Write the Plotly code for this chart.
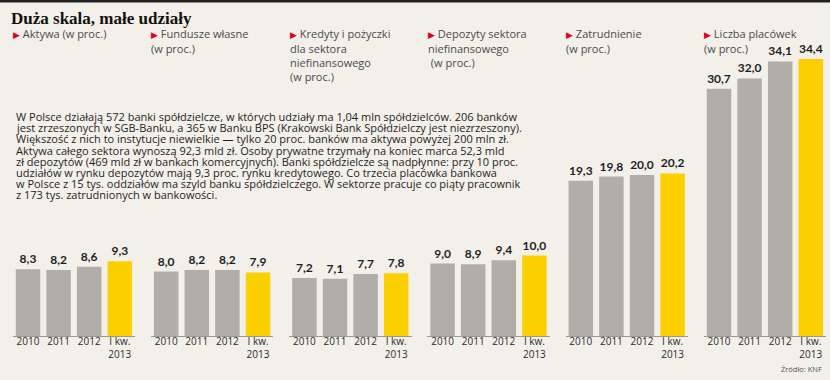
import plotly.graph_objects as go

categories = ["2010", "2011", "2012", "I kw.<br>2013"]
panel_titles = [
    ["Aktywa (w proc.)"],
    ["Fundusze własne", "(w proc.)"],
    ["Kredyty i pożyczki", "dla sektora", "niefinansowego", "(w proc.)"],
    ["Depozyty sektora", "niefinansowego", " (w proc.)"],
    ["Zatrudnienie", "(w proc.)"],
    ["Liczba placówek", "(w proc.)"],
]
aktywa = [8.3, 8.2, 8.6, 9.3]
fundusze = [8.0, 8.2, 8.2, 7.9]
kredyty = [7.2, 7.1, 7.7, 7.8]
depozyty = [9.0, 8.9, 9.4, 10.0]
zatrudnienie = [19.3, 19.8, 20.0, 20.2]
placowki = [30.7, 32.0, 34.1, 34.4]
series = [aktywa, fundusze, kredyty, depozyty, zatrudnienie, placowki]

title = "Duża skala, małe udziały"
paragraph = [
    "W Polsce działają 572 banki spółdzielcze, w których udziały ma 1,04 mln spółdzielców. 206 banków",
    "jest zrzeszonych w SGB-Banku, a 365 w Banku BPS (Krakowski Bank Spółdzielczy jest niezrzeszony).",
    "Większość z nich to instytucje niewielkie — tylko 20 proc. banków ma aktywa powyżej 200 mln zł.",
    "Aktywa całego sektora wynoszą 92,3 mld zł. Osoby prywatne trzymały na koniec marca 52,3 mld",
    "zł depozytów (469 mld zł w bankach komercyjnych). Banki spółdzielcze są nadpłynne: przy 10 proc.",
    "udziałów w rynku depozytów mają 9,3 proc. rynku kredytowego. Co trzecia placówka bankowa",
    "w Polsce z 15 tys. oddziałów ma szyld banku spółdzielczego. W sektorze pracuje co piąty pracownik",
    "z 173 tys. zatrudnionych w bankowości.",
]
source = "Źródło: KNF"

W, H = 830, 380
GRAY = "#b1aea7"
YELLOW = "#fcd000"
BG = "#f3f0ea"
SANS = "Open Sans"

def px(x):
    return x / W

def py(y):
    return (H - y) / H

fig = go.Figure()
layout = {}
annotations = []
starts = [15.7 + 138.2 * i for i in range(6)]
for i, vals in enumerate(series):
    ax = "" if i == 0 else str(i + 1)
    fig.add_trace(go.Bar(
        x=categories, y=vals,
        xaxis="x" + ax, yaxis="y",
        marker=dict(color=[GRAY, GRAY, GRAY, YELLOW], line=dict(width=0)),
        text=[f"{v:.1f}".replace(".", ",") for v in vals],
        textposition="outside",
        textfont=dict(family="Lato", size=12, color="#1e1e1e", weight="bold"),
        cliponaxis=False,
        hoverinfo="skip",
        showlegend=False,
    ))
    s = starts[i]
    layout["xaxis" + ax] = dict(
        domain=[px(s - 3), px(s + 119.4)],
        anchor="y",
        type="category",
        showline=True, linecolor="#9a9893", linewidth=1,
        ticks="", showgrid=False, zeroline=False,
        ticklabelstandoff=-4,
        tickfont=dict(family=SANS, size=10, color="#2a2a2a"),
        fixedrange=True,
    )
    for k, line in enumerate(panel_titles[i]):
        txt = line
        if k == 0:
            txt = "<span style='color:#e3001b;font-size:9px'>▶</span> " + line
        annotations.append(dict(
            x=px(s - 4.5), y=py(34 + 14.2 * k), xref="paper", yref="paper",
            xanchor="left", yanchor="middle", align="left",
            text=txt, showarrow=False,
            font=dict(family=SANS, size=11, color="#4a4a4a"),
        ))

layout["yaxis"] = dict(
    domain=[py(336), py(14)], range=[0, 40],
    visible=False, fixedrange=True,
)

for j, line in enumerate(paragraph):
    annotations.append(dict(
        x=px(14), y=py(116.7 + 11.1 * j), xref="paper", yref="paper",
        xanchor="left", yanchor="middle", align="left",
        text=line, showarrow=False,
        font=dict(family=SANS, size=11, color="#1e1e1e"),
    ))

annotations.append(dict(
    x=px(9), y=py(18), xref="paper", yref="paper",
    xanchor="left", yanchor="middle", text="<b>" + title + "</b>", showarrow=False,
    font=dict(family="Liberation Serif", size=17, color="#111111"),
))
annotations.append(dict(
    x=px(824), y=py(369), xref="paper", yref="paper",
    xanchor="right", yanchor="middle", text=source, showarrow=False,
    font=dict(family=SANS, size=7.5, color="#555555"),
))

fig.update_layout(
    width=W, height=H,
    margin=dict(l=0, r=0, t=0, b=0),
    paper_bgcolor=BG, plot_bgcolor=BG,
    bargap=0.2,
    annotations=annotations,
    shapes=[dict(type="rect", xref="paper", yref="paper", x0=0, x1=1,
                 y0=py(2.5), y1=1, fillcolor="#222222", line=dict(width=0))],
    **layout,
)
fig.write_html(
    "out.html",
    config={"displayModeBar": False},
    post_script="document.body.style.margin='0';document.body.style.overflow='hidden';",
)
